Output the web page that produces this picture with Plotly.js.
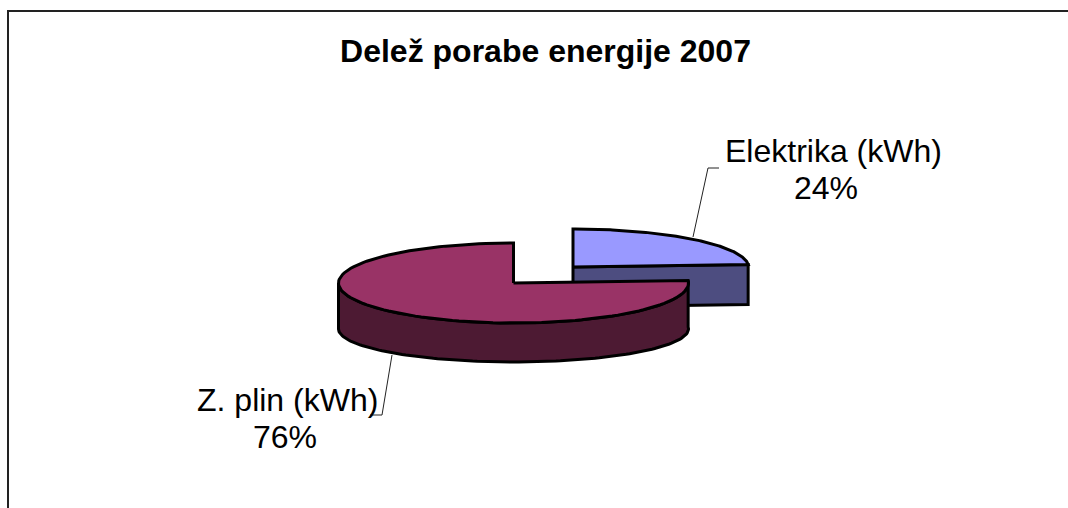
<!DOCTYPE html>
<html>
<head>
<meta charset="utf-8">
<script src="https://cdn.plot.ly/plotly-3.0.1.min.js"></script>
<style>html,body{margin:0;padding:0;background:#fff;overflow:hidden}#chart{width:1068px;height:508px}</style>
</head>
<body>
<div id="chart"></div>
<script>
// Data
const chartTitle = "Delež porabe energije 2007";
const categories = ["Elektrika (kWh)", "Z. plin (kWh)"];
const shares = [24, 76];

// Drawing styles / projection of each wedge on the page
const topColors = ["#9999FF", "#993366"];
const sideColors = ["#4D4D80", "#4D1A33"];
const wedges = [
  {cx: 573, cy: 267, rx: 175.5, ry: 38, bottomCy: 305, bottomRy: 38},
  {cx: 513.5, cy: 283, rx: 175, ry: 40, bottomCy: 329, bottomRy: 33}
];

const W = 1068, H = 508, STEPS = 120;
const FONT = "Liberation Sans, Arial, sans-serif";

function arc(cx, cy, rx, ry, a0, a1) {
  const xs = [], ys = [];
  for (let i = 0; i <= STEPS; i++) {
    const t = (a0 + (a1 - a0) * i / STEPS) * Math.PI / 180;
    xs.push(cx + rx * Math.sin(t));
    ys.push(cy - ry * Math.cos(t));
  }
  return {xs, ys};
}
function poly(xs, ys, fill, width) {
  return {
    type: "scatter", mode: "lines", x: xs.concat(xs[0]), y: ys.concat(ys[0]),
    fill: "toself", fillcolor: fill,
    line: {color: "#000", width: width === undefined ? 3 : width},
    hoverinfo: "skip", showlegend: false
  };
}
function leader(xs, ys) {
  return {type: "scatter", mode: "lines", x: xs, y: ys,
    line: {color: "#222", width: 1}, hoverinfo: "skip", showlegend: false};
}

const total = shares.reduce((a, b) => a + b, 0);
const sweep = shares.map(v => v / total * 360);
const traces = [];

// Electricity wedge: clockwise from 12 o'clock
{
  const g = wedges[0], a = sweep[0];
  const top = arc(g.cx, g.cy, g.rx, g.ry, 0, a);
  const endX = top.xs[STEPS], endY = top.ys[STEPS];
  traces.push(poly([g.cx, endX, endX, g.cx], [g.cy, endY, endY + 40, g.cy + 40], sideColors[0]));
  traces.push(poly([g.cx].concat(top.xs), [g.cy].concat(top.ys), topColors[0]));
}
// Gas wedge: the rest of the circle
{
  const g = wedges[1], a = sweep[0];
  const front = arc(g.cx, g.cy, g.rx, g.ry, a, 270);
  const back = arc(g.cx, g.bottomCy, g.rx, g.bottomRy, a, 270);
  traces.push(poly(front.xs.concat(back.xs.slice().reverse()),
                   front.ys.concat(back.ys.slice().reverse()), sideColors[1]));
  const top = arc(g.cx, g.cy, g.rx, g.ry, a, 360);
  traces.push(poly([g.cx].concat(top.xs), [g.cy].concat(top.ys), topColors[1]));
}
// Leader lines
traces.push(leader([693, 708, 719], [237, 168, 168]));
traces.push(leader([392, 382, 370], [355, 415, 415]));

function label(text, x, y) {
  return {text, x, y, xref: "x", yref: "y", xanchor: "center", yanchor: "middle",
    showarrow: false, font: {family: FONT, size: 32, color: "#000"}};
}

const layout = {
  width: W, height: H,
  margin: {l: 0, r: 0, t: 0, b: 0},
  paper_bgcolor: "#fff", plot_bgcolor: "#fff",
  showlegend: false,
  title: {text: "<b>" + chartTitle + "</b>", x: 545.5 / W, xref: "paper", xanchor: "center",
    y: 1 - 51 / H, yref: "paper", yanchor: "middle",
    font: {family: FONT, size: 32, color: "#000"}},
  xaxis: {range: [0, W], visible: false, fixedrange: true},
  yaxis: {range: [H, 0], visible: false, fixedrange: true},
  shapes: [
    {type: "line", xref: "x", yref: "y", x0: 7, x1: W, y0: 11, y1: 11, line: {color: "#222", width: 2}},
    {type: "line", xref: "x", yref: "y", x0: 8, x1: 8, y0: 10, y1: H, line: {color: "#222", width: 2}}
  ],
  annotations: [
    label(categories[0], 833, 151),
    label(shares[0] + "%", 826, 188),
    label(categories[1], 287, 400),
    label(shares[1] + "%", 285, 437)
  ]
};
Plotly.newPlot("chart", traces, layout, {displayModeBar: false, responsive: false});
</script>
</body>
</html>
